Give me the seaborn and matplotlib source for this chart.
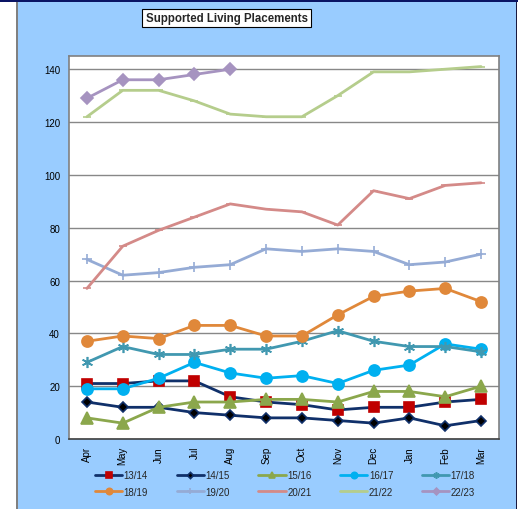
import numpy as np
import pandas as pd
import matplotlib
matplotlib.use("Agg")
import matplotlib.pyplot as plt
from matplotlib.patches import Rectangle
import seaborn as sns

months = ["Apr", "May", "Jun", "Jul", "Aug", "Sep", "Oct", "Nov", "Dec", "Jan", "Feb", "Mar"]
y_ticks = [0, 20, 40, 60, 80, 100, 120, 140]

s1314 = [21, 21, 22, 22, 16, 14, 13, 11, 12, 12, 14, 15]
s1415 = [14, 12, 12, 10, 9, 8, 8, 7, 6, 8, 5, 7]
s1516 = [8, 6, 12, 14, 14, 15, 15, 14, 18, 18, 16, 20]
s1617 = [19, 19, 23, 29, 25, 23, 24, 21, 26, 28, 36, 34]
s1718 = [29, 35, 32, 32, 34, 34, 37, 41, 37, 35, 35, 33]
s1819 = [37, 39, 38, 43, 43, 39, 39, 47, 54, 56, 57, 52]
s1920 = [68, 62, 63, 65, 66, 72, 71, 72, 71, 66, 67, 70]
s2021 = [57, 73, 79, 84, 89, 87, 86, 81, 94, 91, 96, 97]
s2122 = [122, 132, 132, 128, 123, 122, 122, 130, 139, 139, 140, 141]
s2223 = [129, 136, 136, 138, 140]

series_names = ["13/14", "14/15", "15/16", "16/17", "17/18",
                "18/19", "19/20", "20/21", "21/22", "22/23"]
series_values = [s1314, s1415, s1516, s1617, s1718, s1819, s1920, s2021, s2122, s2223]

styles = {
    "13/14": dict(color="#10306A", marker="s", mfc="#C00000", mec="#C00000", ms=7),
    "14/15": dict(color="#10306A", marker="D", mfc="#000000", mec="#10306A", ms=5.5),
    "15/16": dict(color="#8BA74C", marker="^", mfc="#8BA74C", mec="#8BA74C", ms=8),
    "16/17": dict(color="#00B0F0", marker="o", mfc="#00B0F0", mec="#00B0F0", ms=8),
    "17/18": dict(color="#4198B0", marker=(6, 2, 0), mfc="#4198B0", mec="#4198B0", ms=8),
    "18/19": dict(color="#E0883A", marker="o", mfc="#E0883A", mec="#E0883A", ms=8),
    "19/20": dict(color="#95ABD5", marker="+", mfc="#95ABD5", mec="#95ABD5", ms=7),
    "20/21": dict(color="#D48A88", marker="_", mfc="#D48A88", mec="#D48A88", ms=6),
    "21/22": dict(color="#B5CD8C", marker="_", mfc="#B5CD8C", mec="#B5CD8C", ms=6),
    "22/23": dict(color="#A693C0", marker="D", mfc="#A693C0", mec="#A693C0", ms=6),
}

sns.set_theme(style="white")
plt.rcParams["font.family"] = ["Liberation Sans", "DejaVu Sans"]

W, H, DPI = 518, 510, 100
fig = plt.figure(figsize=(W / DPI, H / DPI), dpi=DPI, facecolor="white")

# background panel
fig.patches.append(Rectangle((17 / W, 0), (516 - 17) / W, 1 - 2 / H, transform=fig.transFigure,
                             facecolor="#99CCFF", edgecolor="none", zorder=-2))
fig.patches.append(Rectangle((16 / W, 0), 1.5 / W, 1, transform=fig.transFigure,
                             facecolor="#808080", edgecolor="none", zorder=-1))
fig.patches.append(Rectangle((515.5 / W, 0), 1.5 / W, 1, transform=fig.transFigure,
                             facecolor="#1a1a40", edgecolor="none", zorder=-1))
fig.patches.append(Rectangle((0, 1 - 2.5 / H), 1, 2.5 / H, transform=fig.transFigure,
                             facecolor="#0A1464", edgecolor="none", zorder=-1))

left, right, top, bottom = 69, 499, 57, 440
ax = fig.add_axes([left / W, 1 - bottom / H, (right - left) / W, (bottom - top) / H])
ax.set_zorder(1)
ax.set_facecolor("white")

for name, vals in zip(series_names, series_values):
    st = styles[name]
    idx = np.arange(len(vals))
    sns.lineplot(x=idx, y=vals, ax=ax, color=st["color"], linewidth=2.0, label=name,
                 marker=st["marker"], markerfacecolor=st["mfc"], markeredgecolor=st["mec"],
                 markersize=st["ms"], markeredgewidth=1.2, sort=False, zorder=3)

ax.set_xlim(-0.5, 11.5)
ax.set_ylim(0, 145)
ax.set_xticks(np.arange(len(months)))
ax.set_xticklabels(months, rotation=90, fontsize=7)
ax.set_yticks(y_ticks)
ax.set_yticklabels([str(t) for t in y_ticks], fontsize=7)
ax.tick_params(axis="both", length=0, colors="black")
ax.tick_params(axis="y", pad=6.5)
ax.tick_params(axis="x", pad=5)
ax.grid(axis="y", color="#888888", linewidth=1.0)
ax.set_axisbelow(True)
for sp in ax.spines.values():
    sp.set_visible(True)
    sp.set_color("#808080")
    sp.set_linewidth(1.2)
ax.spines["bottom"].set_color("#404040")
ax.set_xlabel("")
ax.set_ylabel("")

handles, labels = ax.get_legend_handles_labels()
if ax.legend_ is not None:
    ax.legend_.remove()
order = [0, 5, 1, 6, 2, 7, 3, 8, 4, 9]
leg = fig.legend([handles[i] for i in order], [labels[i] for i in order], ncol=5, loc="upper left",
                 bbox_to_anchor=(95 / W, 1 - 471 / H), frameon=False, fontsize=7,
                 handlelength=2.8, handletextpad=0.15, columnspacing=2.95, markerscale=0.57,
                 labelspacing=0.67, borderaxespad=0, borderpad=0)
leg.set_zorder(2)

fig.text(226.5 / W, 1 - 19 / H, "Supported Living Placements", ha="center", va="center",
         fontsize=8.3, fontweight="bold",
         bbox=dict(boxstyle="square,pad=0.3", facecolor="white", edgecolor="black", linewidth=0.8))

fig.savefig("out.png", dpi=DPI, facecolor=fig.get_facecolor())
